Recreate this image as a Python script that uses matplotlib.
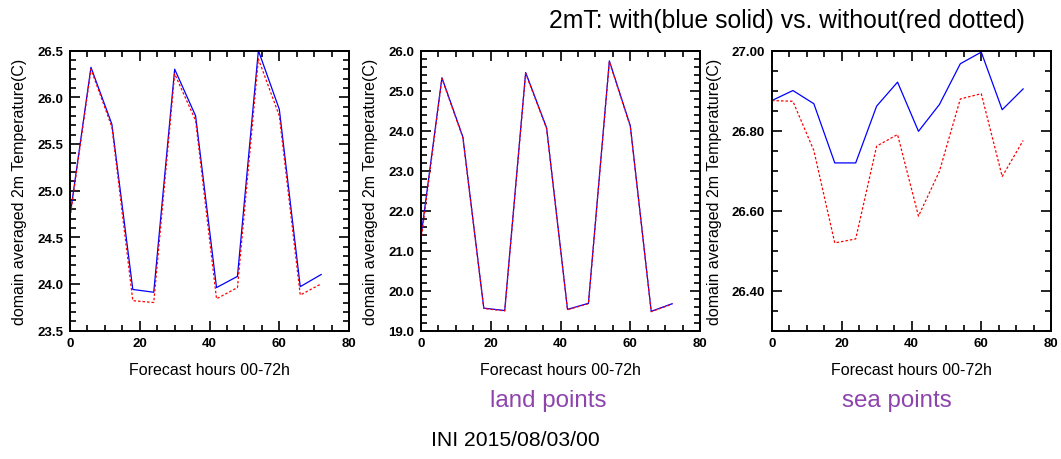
import numpy as np
import matplotlib.pyplot as plt
from matplotlib.ticker import MultipleLocator, FormatStrFormatter

plt.rcParams['font.family'] = ['Liberation Sans', 'DejaVu Sans']

hours = [0, 6, 12, 18, 24, 30, 36, 42, 48, 54, 60, 66, 72]

# all points
all_with = [24.73, 26.32, 25.71, 23.94, 23.91, 26.30, 25.80, 23.96, 24.08, 26.50, 25.87, 23.97, 24.10]
all_without = [24.71, 26.30, 25.68, 23.82, 23.80, 26.25, 25.75, 23.84, 23.96, 26.41, 25.80, 23.88, 24.00]

# land points
land_with = [21.35, 25.32, 23.84, 19.56, 19.50, 25.45, 24.07, 19.53, 19.68, 25.74, 24.12, 19.48, 19.67]
land_without = [21.25, 25.30, 23.82, 19.55, 19.49, 25.43, 24.05, 19.52, 19.67, 25.72, 24.10, 19.47, 19.66]

# sea points
sea_with = [26.875, 26.900, 26.867, 26.719, 26.719, 26.861, 26.921, 26.798, 26.865, 26.967, 26.996, 26.852, 26.904]
sea_without = [26.875, 26.873, 26.750, 26.519, 26.529, 26.761, 26.790, 26.586, 26.698, 26.879, 26.892, 26.685, 26.775]

panels = [
    (all_with, all_without, (23.5, 26.5), 0.5, 0.1, '%.1f'),
    (land_with, land_without, (19.0, 26.0), 1.0, 0.2, '%.1f'),
    (sea_with, sea_without, (26.30, 27.00), 0.2, 0.05, '%.2f'),
]
lefts = [0.066, 0.3968, 0.7276]

fig = plt.figure(figsize=(10.61, 4.60), dpi=100)
for left, (w, wo, ylim, major, minor, fmt) in zip(lefts, panels):
    ax = fig.add_axes([left, 0.2793, 0.263, 0.6087])
    ax.plot(hours, w, color='#0000ff', lw=0.9, clip_on=False)
    ax.plot(hours, wo, color='#ff0000', lw=0.9, linestyle=(0, (2, 1.6)), clip_on=False)
    ax.set_xlim(0, 80)
    ax.set_ylim(*ylim)
    ax.xaxis.set_major_locator(MultipleLocator(20))
    ax.xaxis.set_minor_locator(MultipleLocator(5))
    ax.yaxis.set_major_locator(MultipleLocator(major))
    ax.yaxis.set_minor_locator(MultipleLocator(minor))
    ax.yaxis.set_major_formatter(FormatStrFormatter(fmt))
    ax.tick_params(which='both', direction='in', top=True, right=True, width=1.2)
    ax.tick_params(which='major', length=7, labelsize=9.5, pad=5)
    ax.tick_params(which='minor', length=4)
    for lab in ax.get_xticklabels() + ax.get_yticklabels():
        lab.set_fontweight('bold')
    for sp in ax.spines.values():
        sp.set_linewidth(1.4)
    ax.set_xlabel('Forecast hours 00-72h', fontsize=11.5, labelpad=9)
    ax.set_ylabel('domain averaged 2m Temperature(C)', fontsize=11.5, labelpad=7)

fig.text(0.966, 0.955, '2mT: with(blue solid) vs. without(red dotted)', ha='right', va='center', fontsize=17.8)
fig.text(0.517, 0.128, 'land points', ha='center', va='center', fontsize=17.4, color='#8e44ad')
fig.text(0.845, 0.128, 'sea points', ha='center', va='center', fontsize=17.4, color='#8e44ad')
fig.text(0.486, 0.043, 'INI 2015/08/03/00', ha='center', va='center', fontsize=15.2)

fig.savefig('out.png', dpi=100)
